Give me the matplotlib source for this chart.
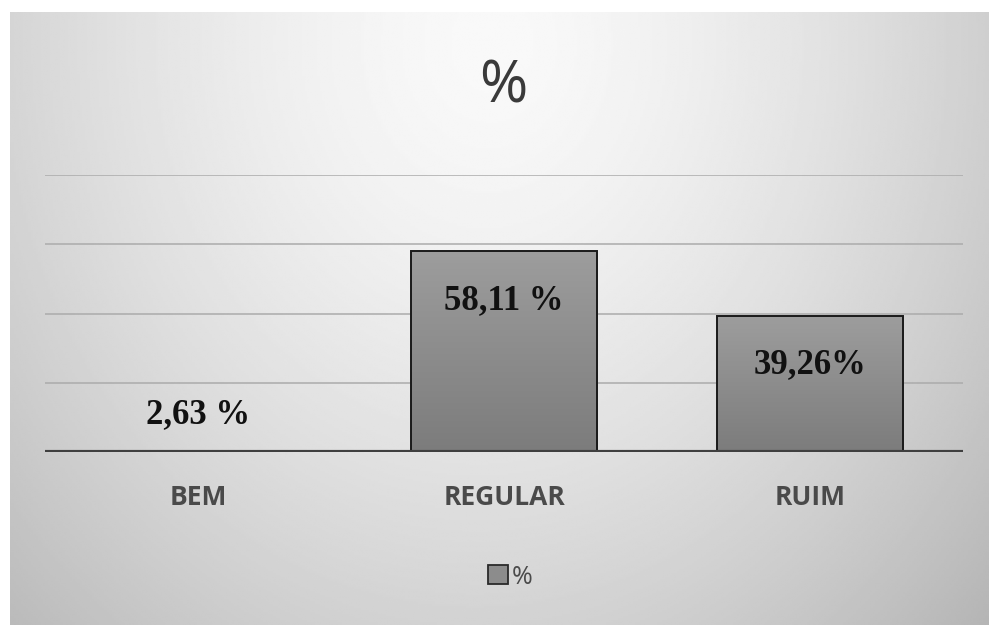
import numpy as np
import matplotlib
matplotlib.use("Agg")
import matplotlib.pyplot as plt
from matplotlib.colors import LinearSegmentedColormap
from matplotlib.patches import Patch

# ---- data ----
categories = ["BEM", "REGULAR", "RUIM"]
bar_values = [0.0, 58.11, 39.26]          # visible bar heights (BEM bar not drawn visibly)
label_texts = ["2,63 %", "58,11 %", "39,26%"]
series_name = "%"
chart_title = "%"
y_ticks = [0, 20, 40, 60, 80]

W, H = 989, 625
fig = plt.figure(figsize=(W / 100, H / 100), dpi=100)
fig.patch.set_facecolor("white")

# ---- background (radial gradient chart area) ----
bg = fig.add_axes([10 / W, 0, 1 - 10 / W, 1 - 12 / H], zorder=0)
u = np.linspace(0, 1, 400)
v = np.linspace(0, 1, 300)
U, V = np.meshgrid(u, v)
d = np.sqrt(((U - 0.5) / 0.55) ** 2 + ((V - 0.05) / 1.05) ** 2)
val = 252 - 45 * d ** 1.5 - 6 * U
val = np.clip(val, 180, 252) / 255.0
bg.imshow(val, cmap="gray", vmin=0, vmax=1, aspect="auto",
          extent=[0, 1, 1, 0], interpolation="bilinear")
bg.set_xlim(0, 1)
bg.set_ylim(1, 0)
bg.axis("off")

# ---- main axes ----
ax = fig.add_axes([45 / W, (H - 452) / H, (963 - 45) / W, (452 - 175) / H], zorder=1)
ax.patch.set_alpha(0)
x = np.arange(len(categories))

for t in y_ticks[1:]:
    ax.axhline(t, color="#ababab", lw=1.1, zorder=1)

bars = ax.bar(x, bar_values, width=0.61, color="none", edgecolor="#1a1a1a",
              linewidth=1.4, zorder=3)

cmap = LinearSegmentedColormap.from_list("bargrad", ["#9d9d9d", "#7c7c7c"])
grad = np.linspace(0, 1, 256).reshape(-1, 1)
for b in bars:
    h = b.get_height()
    if h <= 0:
        continue
    x0 = b.get_x()
    im = ax.imshow(grad, cmap=cmap, aspect="auto",
                   extent=[x0, x0 + b.get_width(), 0, h], origin="upper",
                   zorder=2)
    im.set_clip_path(b)
ax.set_xlim(-0.5, len(categories) - 0.5)
ax.set_ylim(0, 80)

# baseline
ax.axhline(0, color="#3f3f3f", lw=3.0, zorder=4)

# data labels
label_offsets = [21, -42, -41]   # points relative to bar top
for i, (val_, txt) in enumerate(zip(bar_values, label_texts)):
    ax.annotate(txt, xy=(x[i], val_), xytext=(0, label_offsets[i]),
                textcoords="offset points", ha="center", va="baseline",
                fontsize=25, fontweight="bold", family="Liberation Serif",
                color="#111111", zorder=5)

ax.set_xticks(x)
ax.set_xticklabels(categories, fontsize=19, fontweight="bold",
                   family="Open Sans", color="#4a4a4a")
ax.tick_params(axis="x", length=0, pad=23)
ax.set_yticks([])
for s in ax.spines.values():
    s.set_visible(False)

# title
fig.text(503 / W, 1 - 87 / H, chart_title, ha="center", va="center",
         fontsize=42, family="Open Sans", color="#3a3a3a")

# legend
handle = Patch(facecolor="#8c8c8c", edgecolor="#2a2a2a", linewidth=1.3)
fig.legend([handle], [series_name], loc="center", bbox_to_anchor=(510 / W, 1 - 577 / H),
           frameon=False, prop={"family": "Open Sans", "size": 18},
           labelcolor="#4a4a4a", handlelength=0.8, handleheight=0.8,
           handletextpad=0.15)

fig.savefig("out.png", dpi=100)
